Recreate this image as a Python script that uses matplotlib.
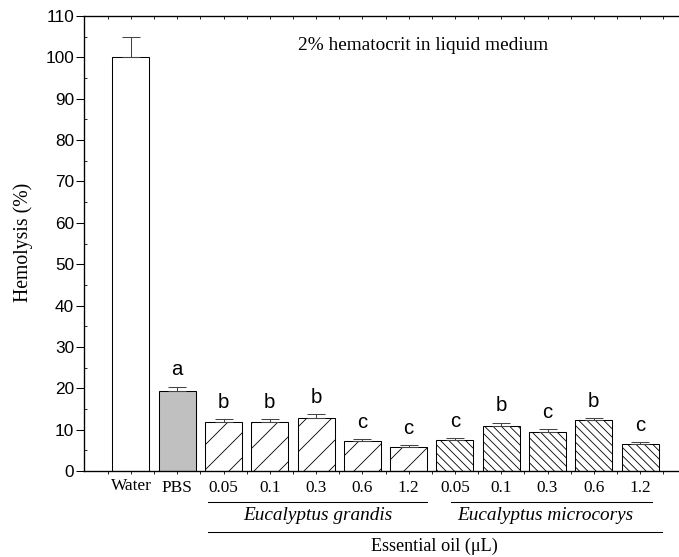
import matplotlib
matplotlib.use("Agg")
import matplotlib.pyplot as plt
from matplotlib.ticker import MultipleLocator, FixedLocator
import matplotlib.transforms as mtrans
import numpy as np

categories = ["Water", "PBS", "0.05", "0.1", "0.3", "0.6", "1.2",
              "0.05", "0.1", "0.3", "0.6", "1.2"]
values = [100.0, 19.3, 11.9, 11.9, 12.9, 7.25, 5.9,
          7.5, 11.0, 9.5, 12.25, 6.6]
errors = [5.0, 1.1, 0.7, 0.7, 0.8, 0.45, 0.3,
          0.5, 0.7, 0.6, 0.55, 0.4]
letters = ["", "a", "b", "b", "b", "c", "c", "c", "b", "c", "b", "c"]
groups = ["water", "pbs"] + ["grandis"] * 5 + ["microcorys"] * 5
group_names = {"grandis": "Eucalyptus grandis", "microcorys": "Eucalyptus microcorys"}
title_text = "2% hematocrit in liquid medium"
ylabel_text = "Hemolysis (%)"
xlabel_text = "Essential oil (\u03bcL)"

W, H = 679, 557
DPI = 75
plt.rcParams['hatch.linewidth'] = 0.8
fig = plt.figure(figsize=(W / DPI, H / DPI), dpi=DPI)
ax = fig.add_axes([84 / W, 1 - 471 / H, (W - 84) / W, (471 - 16) / H])

x = np.arange(1, len(values) + 1)
fills = {"water": "white", "pbs": "#c0c0c0", "grandis": "white", "microcorys": "white"}
hatches = {"water": "", "pbs": "", "grandis": "/", "microcorys": "\\\\\\"}
for xi, v, g in zip(x, values, groups):
    ax.bar(xi, v, width=0.8, color=fills[g], edgecolor="black", linewidth=1.0,
           hatch=hatches[g], zorder=2)
ax.errorbar(x, values, yerr=[np.zeros(len(errors)), errors], fmt="none",
            ecolor="#444444", elinewidth=1.0, capsize=9, capthick=1.0, zorder=3)

for xi, v, e, l in zip(x, values, errors, letters):
    if l:
        ax.text(xi, v + e + 2.7, l, ha="center", va="baseline",
                fontsize=19.5, family="Liberation Sans")

ax.set_xlim(-0.015, 12.84)
ax.set_ylim(0, 110)
ax.spines["right"].set_visible(False)
for s in ["left", "bottom", "top"]:
    ax.spines[s].set_linewidth(1.3)

ax.yaxis.set_major_locator(MultipleLocator(10))
ax.yaxis.set_minor_locator(MultipleLocator(5))
ax.tick_params(axis="y", which="major", direction="out", length=7.5, width=1.0,
               labelsize=16.5, pad=2)
ax.tick_params(axis="y", which="minor", direction="in", length=3, width=0.8)
for lab in ax.get_yticklabels():
    lab.set_family("Liberation Sans")

ax.set_xticks(x)
ax.set_xticklabels(categories, family="Liberation Serif", fontsize=16.5)
ax.xaxis.set_minor_locator(FixedLocator(np.arange(0.5, 13, 1.0)))
ax.tick_params(axis="x", which="both", direction="out", length=3, width=0.8,
               pad=6, top=True, labeltop=False)
for t in ax.xaxis.get_major_ticks() + ax.xaxis.get_minor_ticks():
    t.tick2line.set_marker(3)  # TICKDOWN (inward at top)
    t.tick2line.set_markersize(3)
ax.get_xticklabels()[0].set_y(0.006)

fig.text(298 / W, 1 - 50 / H, title_text, family="Liberation Serif", fontsize=18.5,
         ha="left", va="baseline")
fig.text(23 / W, 1 - 242 / H, ylabel_text, family="Liberation Serif", fontsize=19,
         rotation=90, ha="center", va="center")

trans = mtrans.blended_transform_factory(ax.transData, fig.transFigure)
def hline(x0, x1, ypx):
    ax.plot([x0, x1], [1 - ypx / H] * 2, color="black", lw=1.0,
            transform=trans, clip_on=False)

hline(2.663, 7.39, 501.7)
hline(7.91, 12.25, 501.7)
hline(2.663, 12.47, 531.7)
ax.text(5.03, 1 - 515 / H, group_names["grandis"], transform=trans, ha="center",
        va="center", family="Liberation Serif", style="italic", fontsize=18.5)
ax.text(9.95, 1 - 515 / H, group_names["microcorys"], transform=trans, ha="center",
        va="center", family="Liberation Serif", style="italic", fontsize=18.5)
ax.text(7.55, 1 - 546 / H, xlabel_text, transform=trans, ha="center",
        va="center", family="Liberation Serif", fontsize=17.5)

fig.savefig("out.png", dpi=DPI)
